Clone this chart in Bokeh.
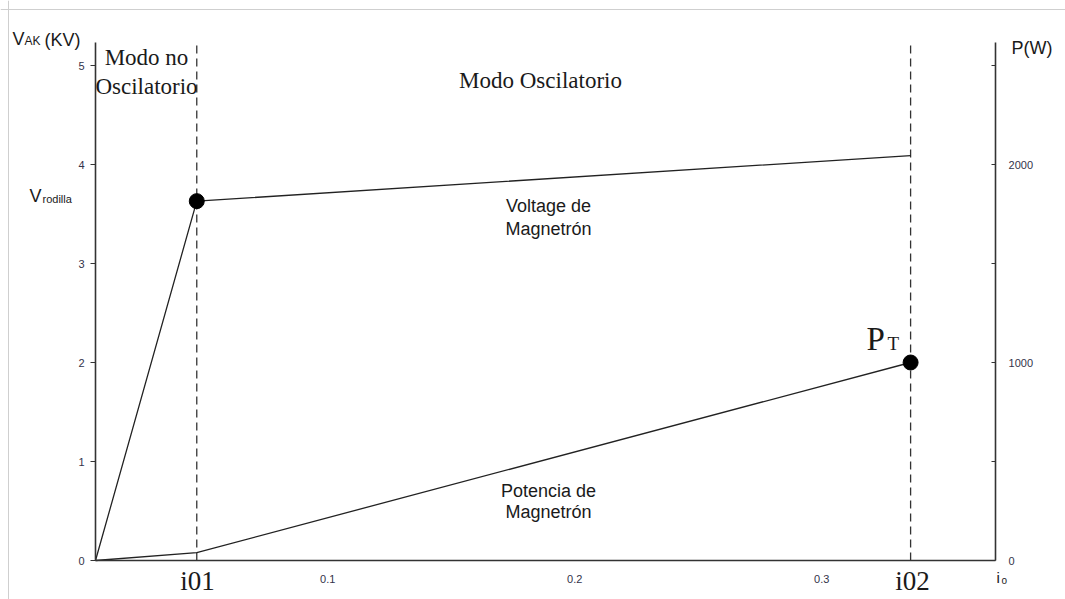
from bokeh.plotting import figure
from bokeh.models import Range1d, LinearAxis, FixedTicker, Label, Span
from bokeh.embed import file_html
from bokeh.resources import INLINE

# ---- data ----
corriente_a = [0.006, 0.047, 0.336]          # io: origin, i01, i02
voltaje_kv = [0.0, 3.63, 4.09]               # magnetron voltage (kV)
potencia_w = [0.0, 40.0, 1000.0]             # magnetron power (W)
i_marcas = [0.047, 0.336]                    # i01, i02
x_ticks = [0.1, 0.2, 0.3]
v_ticks = [0, 1, 2, 3, 4, 5]
p_ticks = [0, 500, 1000, 1500, 2000, 2500]
p_labels = {500: "", 1500: "", 2500: ""}

# axis extents (data)
X_MIN, X_MAX = 0.006, 0.3704
V_MAX = 5.232
KV_TO_W = 500.0

W, H = 1065, 599
PX_X0, PX_PER_X = 95, 2470       # page pixel of X_MIN, pixels per ampere
PX_Y0, PX_PER_KV = 560, 99       # page pixel of 0 kV, pixels per kV


def dx(px):
    return X_MIN + (px - PX_X0) / PX_PER_X


def dy(py):
    return (PX_Y0 - py) / PX_PER_KV


p = figure(width=W, height=H, output_backend="svg", toolbar_location=None,
           x_range=Range1d(dx(0), dx(W)), y_range=Range1d(dy(H), dy(0)),
           min_border=0, min_border_left=0, min_border_right=0,
           min_border_top=0, min_border_bottom=0,
           background_fill_color="white", border_fill_color="white")
p.grid.visible = False
p.outline_line_color = None
p.extra_y_ranges = {"pw": Range1d(dy(H) * KV_TO_W, dy(0) * KV_TO_W)}
p.xaxis.visible = False
p.yaxis.visible = False

AX = "#333333"
TICK_FONT = "Liberation Sans"
TICK_COLOR = "#33334a"

# bottom axis
xa = LinearAxis(ticker=FixedTicker(ticks=x_ticks), fixed_location=0.0,
                bounds=(X_MIN, X_MAX))
xa.major_tick_line_color = None
xa.minor_tick_line_color = None
xa.axis_line_color = AX
xa.axis_line_width = 1.6
xa.major_label_text_font = TICK_FONT
xa.major_label_text_font_size = "11px"
xa.major_label_text_color = TICK_COLOR
xa.major_label_standoff = 8
p.add_layout(xa, "below")

# left axis (kV)
ya = LinearAxis(ticker=FixedTicker(ticks=v_ticks), fixed_location=X_MIN,
                bounds=(0, V_MAX))
ya.major_tick_out = 5
ya.major_tick_in = 0
ya.minor_tick_line_color = None
ya.axis_line_color = AX
ya.axis_line_width = 1.6
ya.major_tick_line_color = AX
ya.major_label_text_font = TICK_FONT
ya.major_label_text_font_size = "11px"
ya.major_label_text_color = TICK_COLOR
ya.major_label_standoff = 6
p.add_layout(ya, "left")

# right axis (power)
ra = LinearAxis(y_range_name="pw", ticker=FixedTicker(ticks=p_ticks),
                major_label_overrides=p_labels, fixed_location=X_MAX,
                bounds=(0, V_MAX * KV_TO_W))
ra.major_tick_in = 4
ra.major_tick_out = 0
ra.minor_tick_line_color = None
ra.axis_line_color = AX
ra.axis_line_width = 1.6
ra.major_tick_line_color = AX
ra.major_label_text_font = TICK_FONT
ra.major_label_text_font_size = "11px"
ra.major_label_text_color = TICK_COLOR
ra.major_label_standoff = 13
p.add_layout(ra, "right")

# page border (top / left)
p.add_layout(Span(location=dx(8), dimension="height", line_color="#cfcfcf", line_width=1))
p.add_layout(Span(location=dy(9), dimension="width", line_color="#cfcfcf", line_width=1))

# dashed vertical markers at i01, i02
p.segment(x0=i_marcas, y0=[0, 0], x1=i_marcas, y1=[V_MAX, V_MAX],
          line_color="#333333", line_dash="8 5", line_width=1.3)

# curves
p.line(corriente_a, voltaje_kv, line_color="#222222", line_width=1.3)
p.line(corriente_a, potencia_w, y_range_name="pw", line_color="#222222", line_width=1.3)
p.scatter([corriente_a[1]], [voltaje_kv[1]], size=15, color="black")
p.scatter([corriente_a[2]], [potencia_w[2]], y_range_name="pw", size=15, color="black")


def lab(text, px, py, size, font="Liberation Sans", align="center", color="#1a1a1a"):
    p.add_layout(Label(x=dx(px), y=dy(py), text=text, text_font=font,
                       text_font_size=f"{size}px", text_align=align,
                       text_baseline="middle", text_color=color))


SERIF = "Liberation Serif"
lab("Modo no", 146, 57, 23, SERIF)
lab("Oscilatorio", 146, 86, 23, SERIF)
lab("Modo Oscilatorio", 540, 80, 23, SERIF)
lab("Voltage de", 548, 205, 18)
lab("Magnetrón", 548, 228, 18)
lab("Potencia de", 548, 490, 18)
lab("Magnetrón", 548, 511, 18)

# P_T
lab("P", 866, 338, 33, SERIF, align="left")
lab("T", 887, 343, 19, SERIF, align="left")

# V_rodilla
lab("V", 29, 195, 18, align="left")
lab("rodilla", 42, 198, 11, align="left")

# V_AK (KV)
lab("V", 12, 38, 18, align="left")
lab("AK", 24, 40, 12, align="left")
lab("(KV)", 44, 39, 18, align="left")

# P(W)
lab("P(W)", 1011, 47, 18, align="left")

# i01, i02, io
lab("i01", 197, 580, 27, SERIF)
lab("i02", 912, 580, 27, SERIF)
lab("i", 996, 577, 15, align="left")
lab("o", 1001, 580, 10, align="left")

open("out.html", "w").write(file_html(p, INLINE))
